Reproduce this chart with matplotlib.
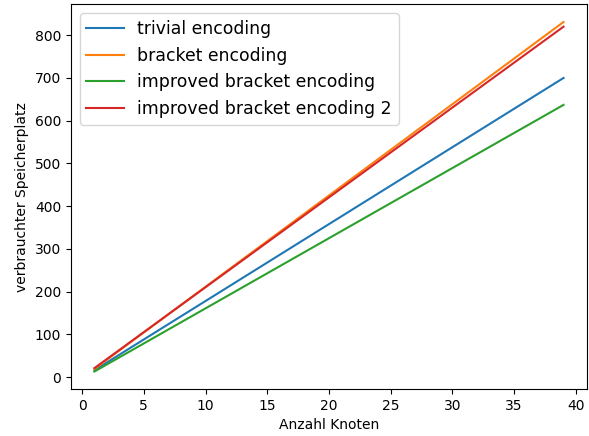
import matplotlib
matplotlib.use('Agg')
import matplotlib.pyplot as plt

# Anzahl Knoten (endpoints, lines are straight)
knoten = [1, 39]
trivial = [16, 700]
bracket = [19, 831]
improved = [13, 637]
improved2 = [21, 820]

fig = plt.figure(figsize=(5.89, 4.36), dpi=100)
ax = fig.add_subplot(111)
fig.subplots_adjust(left=0.1205, right=0.9966, top=0.9897, bottom=0.1078)

ax.plot(knoten, trivial, label='trivial encoding')
ax.plot(knoten, bracket, label='bracket encoding')
ax.plot(knoten, improved, label='improved bracket encoding')
ax.plot(knoten, improved2, label='improved bracket encoding 2')

ax.set_xlabel('Anzahl Knoten')
ax.set_ylabel('verbrauchter Speicherplatz')
ax.legend(fontsize=12.4, handlelength=2.15)

fig.savefig('out.png', dpi=100)
